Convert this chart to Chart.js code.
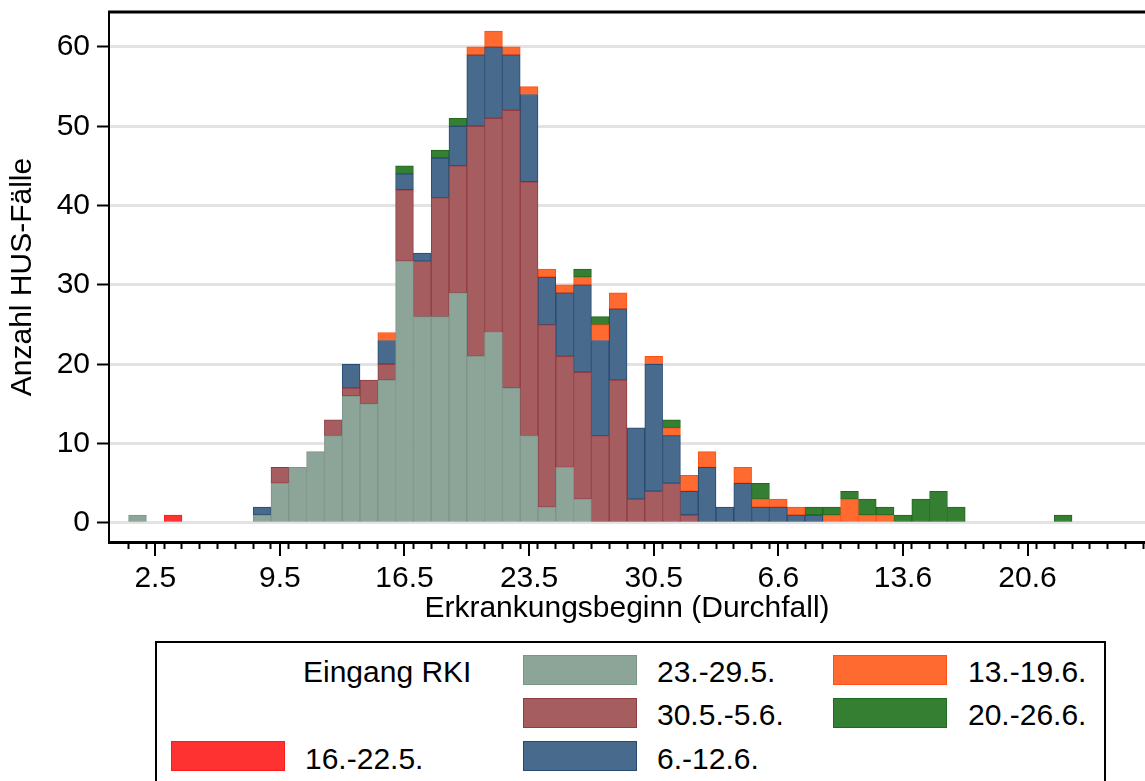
<!DOCTYPE html>
<html>
<head>
<meta charset="utf-8">
<script src="https://cdn.jsdelivr.net/npm/chart.js@4.4.1/dist/chart.umd.min.js"></script>
<style>
  html, body { margin: 0; padding: 0; background: #fff; overflow: hidden; }
  body { width: 1145px; height: 781px; position: relative; font-family: "Liberation Sans", Arial, sans-serif; }
  #wrap { position: absolute; left: 0; top: 0; width: 1145px; height: 640px; }
  #legend { position: absolute; left: 155px; top: 641px; width: 951px; height: 200px; box-sizing: border-box; border: 2px solid #000; }
  .sw { position: absolute; width: 114px; height: 30px; box-sizing: border-box; border: 1px solid; }
  .lt { position: absolute; font-size: 30px; line-height: 30px; color: #000; white-space: nowrap; }
</style>
</head>
<body>
<div id="wrap"><canvas id="histChart" width="1145" height="640"></canvas></div>
<div id="legend"></div>
<script>
  'use strict';

  // days since 1 May (0 = 1.5.), one bar per day of onset
  var days = [];
  for (var i = 0; i <= 52; i++) days.push(i);

  //              1.5 ............................................................... 22.6
  var in1622  = [0,0,1,0,0,0,0,0,0,0,0,0,0,0,0,0,0,0,0,0,0,0,0,0,0,0,0,0,0,0,0,0,0,0,0,0,0,0,0,0,0,0,0,0,0,0,0,0,0,0,0,0,0];
  var in2329  = [1,0,0,0,0,0,0,1,5,7,9,11,16,15,18,33,26,26,29,21,24,17,11,2,7,3,0,0,0,0,0,0,0,0,0,0,0,0,0,0,0,0,0,0,0,0,0,0,0,0,0,0,0];
  var in3005  = [0,0,0,0,0,0,0,0,2,0,0,2,1,3,2,9,7,15,16,29,27,35,32,23,14,16,11,18,3,4,5,1,0,0,0,0,0,0,0,0,0,0,0,0,0,0,0,0,0,0,0,0,0];
  var in0612  = [0,0,0,0,0,0,0,1,0,0,0,0,3,0,3,2,1,5,5,9,9,7,11,6,8,11,12,9,9,16,6,3,7,2,5,2,2,1,1,0,0,0,0,0,0,0,0,0,0,0,0,0,0];
  var in1319  = [0,0,0,0,0,0,0,0,0,0,0,0,0,0,1,0,0,0,0,1,2,1,1,1,1,1,2,2,0,1,1,2,2,0,2,1,1,1,0,1,3,1,1,0,0,0,0,0,0,0,0,0,0];
  var in2026  = [0,0,0,0,0,0,0,0,0,0,0,0,0,0,0,1,0,1,1,0,0,0,0,0,0,1,1,0,0,0,1,0,0,0,0,2,0,0,1,1,1,2,1,1,3,4,2,0,0,0,0,0,1];

  var seriesLabels = ['16.-22.5.', '23.-29.5.', '30.5.-5.6.', '6.-12.6.', '13.-19.6.', '20.-26.6.'];
  var seriesData   = [in1622, in2329, in3005, in0612, in1319, in2026];
  var fillColors   = ['#ff3232', '#8ca598', '#a65d60', '#486a8c', '#ff6a30', '#357f33'];
  var lineColors   = ['#ff1a1a', '#7b9688', '#8f3c43', '#264a72', '#ff4f14', '#1f6a1f'];

  var tickDays   = [1, 8, 15, 22, 29, 36, 43, 50];
  var tickLabels = ['2.5', '9.5', '16.5', '23.5', '30.5', '6.6', '13.6', '20.6'];
  var yTicks     = [0, 10, 20, 30, 40, 50, 60];

  var font = { family: '"Liberation Sans", Arial, sans-serif', size: 30 };

  var datasets = seriesData.map(function (arr, k) {
    return {
      label          : seriesLabels[k],
      data           : arr.map(function (v) { return v || null; }),
      backgroundColor: fillColors[k],
      borderColor    : lineColors[k],
      borderWidth    : 1,
      borderSkipped  : false,
      barPercentage  : 1,
      categoryPercentage: 1
    };
  });

  // longer marks at the labelled days, frame line on top
  var framePlugin = {
    id: 'frame',
    afterDraw: function (chart) {
      var ctx = chart.ctx, area = chart.chartArea, xs = chart.scales.x;
      ctx.save();
      ctx.strokeStyle = '#000';
      ctx.lineWidth = 2;
      tickDays.forEach(function (d) {
        var px = Math.round(xs.getPixelForValue(d));
        ctx.beginPath();
        ctx.moveTo(px, area.bottom);
        ctx.lineTo(px, area.bottom + 14);
        ctx.stroke();
      });
      ctx.lineWidth = 3;
      ctx.beginPath();
      ctx.moveTo(area.left - 1, area.top);
      ctx.lineTo(area.right, area.top);
      ctx.stroke();
      ctx.restore();
    }
  };

  var allDays = [];
  for (var t = 0; t <= 56; t++) allDays.push(t);

  new Chart(document.getElementById('histChart'), {
    type: 'bar',
    data: { labels: days, datasets: datasets },
    options: {
      responsive: false,
      animation: false,
      devicePixelRatio: 1,
      layout: { padding: { top: 12, left: 0, right: 0, bottom: 0 } },
      plugins: { legend: { display: false }, tooltip: { enabled: false } },
      scales: {
        x: {
          type: 'linear',
          stacked: true,
          min: -1.6,
          max: 56.6,
          offset: false,
          afterBuildTicks: function (s) { s.ticks = allDays.map(function (v) { return { value: v }; }); },
          afterFit: function (s) { s.height = 98; s.paddingLeft = 0; s.paddingRight = 0; },
          grid: { drawOnChartArea: false, tickLength: 7, tickWidth: 2, tickColor: '#000', color: '#000' },
          border: { color: '#000', width: 3 },
          ticks: {
            autoSkip: false, maxRotation: 0, minRotation: 0, padding: 12, color: '#000', font: font,
            callback: function (v) { var k = tickDays.indexOf(v); return k < 0 ? '' : tickLabels[k]; }
          },
          title: { display: true, text: 'Erkrankungsbeginn (Durchfall)', color: '#000', font: font, padding: { top: 0, bottom: 13 } }
        },
        y: {
          stacked: true,
          min: -2.4,
          max: 64.4,
          afterBuildTicks: function (s) { s.ticks = yTicks.map(function (v) { return { value: v }; }); },
          afterFit: function (s) { s.width = 109; s.paddingTop = 0; s.paddingBottom = 0; },
          grid: { color: '#e3e3e3', lineWidth: 3, tickColor: '#000', tickWidth: 2, tickLength: 12 },
          border: { color: '#000', width: 2 },
          ticks: { padding: 7, color: '#000', font: font },
          title: { display: true, text: 'Anzahl HUS-Fälle', color: '#000', font: font, padding: { top: 5, bottom: 5 } }
        }
      }
    },
    plugins: [framePlugin]
  });

  // legend laid out like the original (3 columns)
  var legend = document.getElementById('legend');
  var spots = [ // [series index, swatch left, swatch top, text left, text top] in page px
    [0, 171, 741, 305, 744],
    [1, 523, 655, 657, 657],
    [2, 523, 698, 657, 700],
    [3, 523, 741, 657, 744],
    [4, 833, 655, 968, 657],
    [5, 833, 698, 968, 700]
  ];
  function put(html, cls, left, top, css) {
    var el = document.createElement('div');
    el.className = cls;
    el.style.left = (left - 157) + 'px';
    el.style.top = (top - 643) + 'px';
    if (css) Object.assign(el.style, css);
    el.textContent = html;
    legend.appendChild(el);
  }
  put('Eingang RKI', 'lt', 303, 657);
  spots.forEach(function (s) {
    put('', 'sw', s[1], s[2], { background: fillColors[s[0]], borderColor: lineColors[s[0]] });
    put(seriesLabels[s[0]], 'lt', s[3], s[4]);
  });
</script>
</body>
</html>
